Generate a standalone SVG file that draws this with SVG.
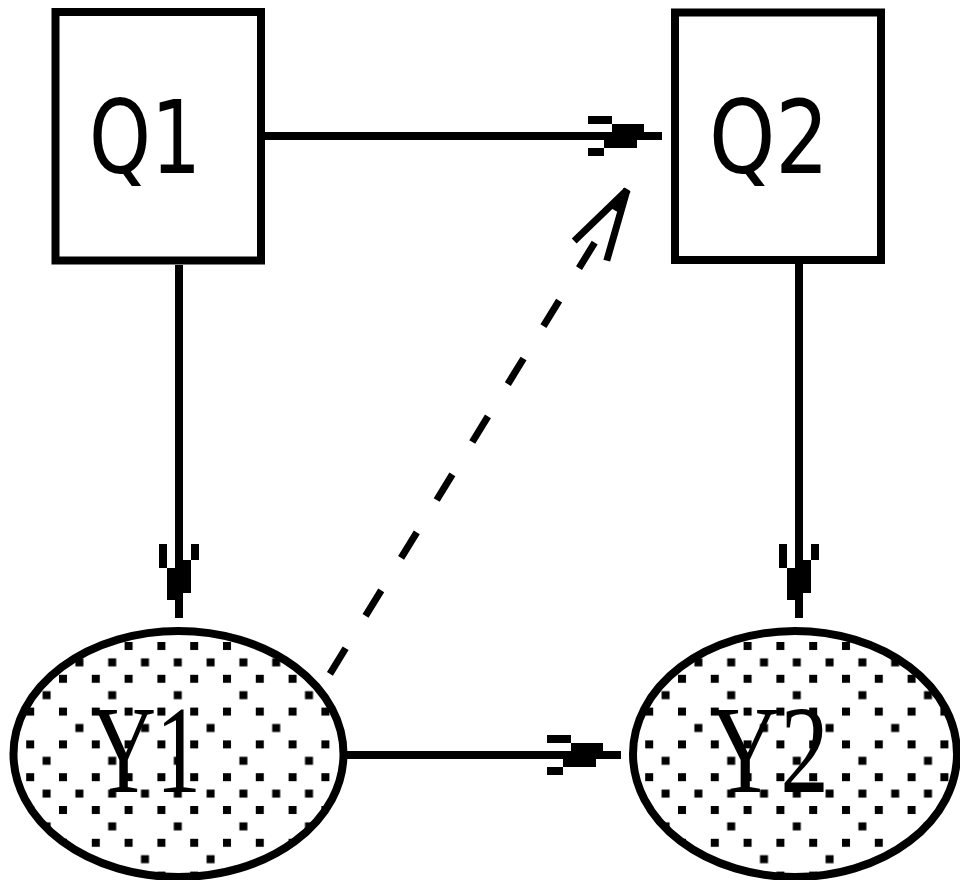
<svg xmlns="http://www.w3.org/2000/svg" width="960" height="880" viewBox="0 0 960 880">
  <style>
    .box { fill: #ffffff; stroke: #000000; stroke-width: 8; }
    .oval { stroke: #000000; stroke-width: 8; }
    .edge { fill: none; stroke: #000000; stroke-width: 8; }
    .dashed { stroke-width: 7; stroke-dasharray: 30 38; stroke-dashoffset: 49; }
    .qlabel { font-family: "DejaVu Sans", "Liberation Sans", sans-serif; fill: #000000; }
    .ylabel { font-family: "Liberation Serif", "Times New Roman", serif; fill: #000000; }
    .dot { fill: #000000; }
  </style>
  <defs>
    <!-- 8x16 cell stipple: rows of dots alternating full / sparse -->
    <g id="stipple">
      <rect class="dot" x="0" y="0" width="8" height="8"/>
      <rect class="dot" x="32.8" y="0" width="8" height="8"/>
      <rect class="dot" x="16.4" y="16.4" width="8" height="8"/>
      <rect class="dot" x="49.2" y="16.4" width="8" height="8"/>
      <rect class="dot" x="0" y="32.8" width="8" height="8"/>
      <rect class="dot" x="32.8" y="32.8" width="8" height="8"/>
      <rect class="dot" x="49.2" y="49.2" width="8" height="8"/>
      <rect class="dot" x="0" y="65.6" width="8" height="8"/>
      <rect class="dot" x="32.8" y="65.6" width="8" height="8"/>
      <rect class="dot" x="16.4" y="82" width="8" height="8"/>
      <rect class="dot" x="0" y="98.4" width="8" height="8"/>
      <rect class="dot" x="32.8" y="98.4" width="8" height="8"/>
      <rect class="dot" x="49.2" y="114.8" width="8" height="8"/>
    </g>
    <pattern id="dotsY1" patternUnits="userSpaceOnUse" x="59" y="642" width="65.6" height="131.2">
      <rect x="0" y="0" width="65.6" height="131.2" fill="#ffffff"/>
      <use href="#stipple"/>
    </pattern>
    <pattern id="dotsY2" patternUnits="userSpaceOnUse" x="678" y="642" width="65.6" height="131.2">
      <rect x="0" y="0" width="65.6" height="131.2" fill="#ffffff"/>
      <use href="#stipple"/>
    </pattern>
    <!-- solid arrowhead for horizontal edges -->
    <marker id="headH" markerUnits="userSpaceOnUse" viewBox="-80 -24 80 48" markerWidth="80" markerHeight="48" refX="0" refY="0" orient="auto">
      <rect x="-74" y="-20" width="24" height="8" fill="#000"/>
      <rect x="-50" y="-12" width="32" height="8" fill="#000"/>
      <rect x="-58" y="4" width="33" height="8" fill="#000"/>
      <rect x="-74" y="12" width="16" height="8" fill="#000"/>
    </marker>
    <!-- solid arrowhead for vertical edges (mirrored) -->
    <marker id="headV" markerUnits="userSpaceOnUse" viewBox="-80 -24 80 48" markerWidth="80" markerHeight="48" refX="0" refY="0" orient="auto">
      <rect x="-74" y="12" width="24" height="8" fill="#000"/>
      <rect x="-50" y="4" width="32" height="8" fill="#000"/>
      <rect x="-58" y="-12" width="33" height="8" fill="#000"/>
      <rect x="-74" y="-20" width="16" height="8" fill="#000"/>
    </marker>
    <!-- open arrowhead for the dashed edge -->
    <marker id="headOpen" markerUnits="userSpaceOnUse" viewBox="-84 -30 90 60" markerWidth="90" markerHeight="60" refX="0" refY="0" orient="auto">
      <path d="M-71,-19 L0,0 L-71,19" fill="none" stroke="#000" stroke-width="7" stroke-linejoin="bevel"/>
    </marker>
  </defs>

  <rect x="0" y="0" width="960" height="880" fill="#ffffff"/>

  <g id="connectors">
    <line class="edge" x1="265" y1="136" x2="662" y2="136" marker-end="url(#headH)"/>
    <line class="edge" x1="179" y1="265" x2="179" y2="618" marker-end="url(#headV)"/>
    <line class="edge" x1="799" y1="264" x2="799" y2="618" marker-end="url(#headV)"/>
    <line class="edge" x1="344" y1="755" x2="621" y2="755" marker-end="url(#headH)"/>
    <line class="edge dashed" x1="320" y1="690" x2="627" y2="190"/>
    <line class="edge" x1="626.4" y1="191" x2="627" y2="190" stroke-width="0" marker-end="url(#headOpen)"/>
  </g>

  <g id="Q1">
    <rect class="box" x="55.5" y="12" width="205.5" height="248.5"/>
    <text class="qlabel" x="89" y="173" font-size="101" textLength="112" lengthAdjust="spacingAndGlyphs">Q1</text>
  </g>

  <g id="Q2">
    <rect class="box" x="675" y="12.5" width="206" height="247.5"/>
    <text class="qlabel" x="709" y="173" font-size="101" textLength="120" lengthAdjust="spacingAndGlyphs">Q2</text>
  </g>

  <g id="Y1">
    <ellipse class="oval" cx="178.5" cy="754" rx="165" ry="123" fill="url(#dotsY1)"/>
    <text class="ylabel" x="91" y="792" font-size="124" textLength="110" lengthAdjust="spacingAndGlyphs">Y1</text>
  </g>

  <g id="Y2">
    <ellipse class="oval" cx="795" cy="754" rx="162" ry="123" fill="url(#dotsY2)"/>
    <text class="ylabel" x="710" y="792" font-size="124" textLength="119" lengthAdjust="spacingAndGlyphs">Y2</text>
  </g>
</svg>
